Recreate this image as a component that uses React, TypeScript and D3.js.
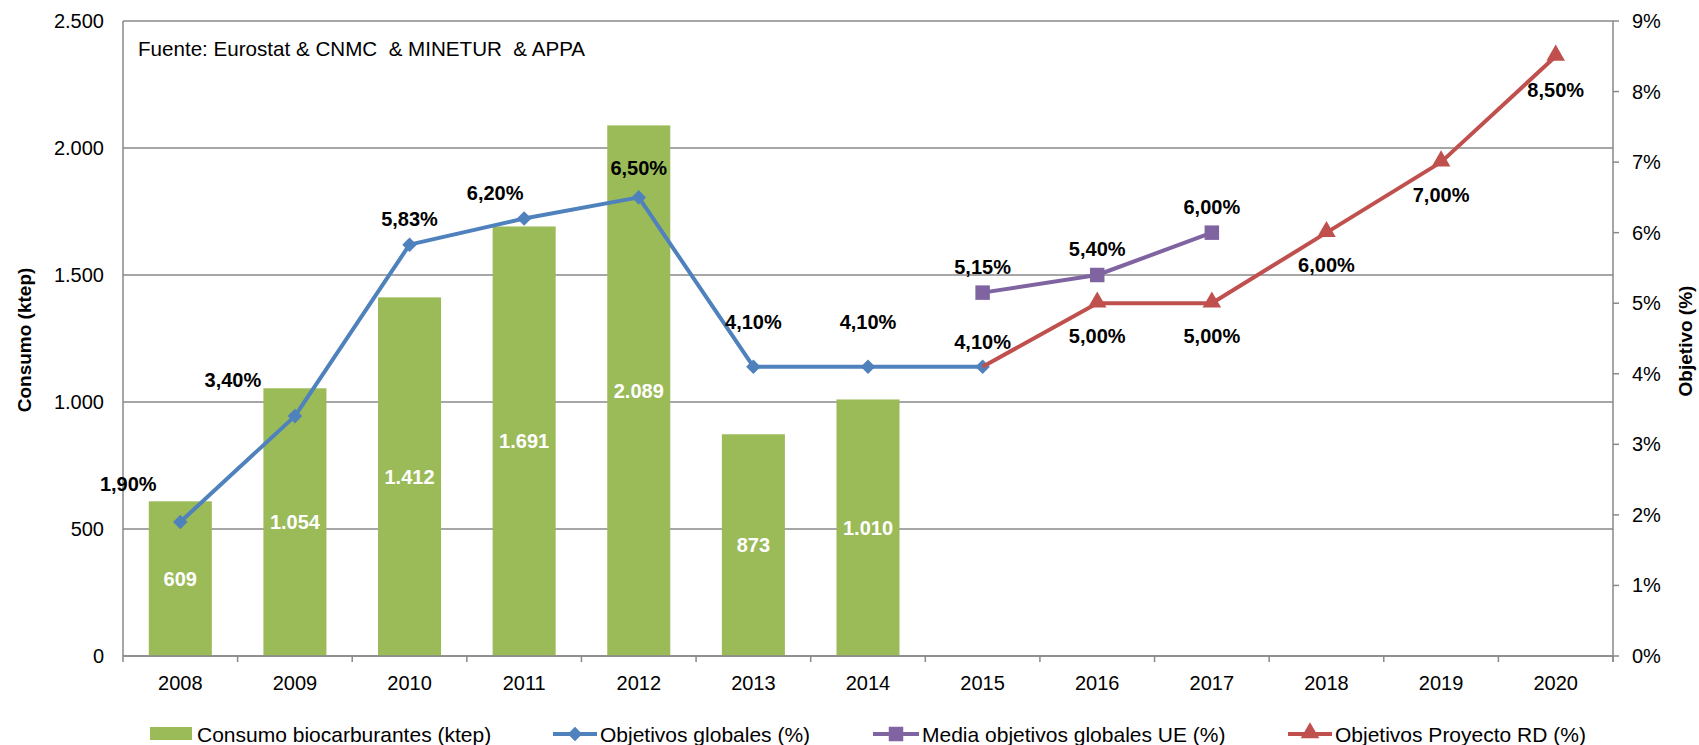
import React from "react";
import * as d3 from "d3";

const years = ["2008", "2009", "2010", "2011", "2012", "2013", "2014", "2015", "2016", "2017", "2018", "2019", "2020"];
const consumo = [609, 1054, 1412, 1691, 2089, 873, 1010];
const objetivosGlobales = [1.9, 3.4, 5.83, 6.2, 6.5, 4.1, 4.1, 4.1];
const mediaUEYears = ["2015", "2016", "2017"];
const mediaUE = [5.15, 5.4, 6.0];
const proyectoRDYears = ["2015", "2016", "2017", "2018", "2019", "2020"];
const proyectoRD = [4.1, 5.0, 5.0, 6.0, 7.0, 8.5];
const leftTicks = [0, 500, 1000, 1500, 2000, 2500];
const rightTicks = [0, 1, 2, 3, 4, 5, 6, 7, 8, 9];
const legendLabels = ["Consumo biocarburantes (ktep)", "Objetivos globales (%)", "Media objetivos globales UE (%)", "Objetivos Proyecto RD (%)"];

// label offsets (layout only)
const blueLabelOffsets: [number, number][] = [[-52, -38], [-62, -36], [0, -26], [-29, -26], [0, -29], [0, -45], [0, -45], [0, -25]];
const purpleLabelOffsets: [number, number][] = [[0, -26], [0, -26], [0, -26]];
const redLabelOffsets: [number, number][] = [[0, 0], [0, 33], [0, 33], [0, 32], [0, 33], [0, 34]];

const GREEN = "#9BBB59";
const BLUE = "#4F81BD";
const PURPLE = "#8064A2";
const RED = "#C0504D";
const GRID = "#898989";
const FONT = "'Liberation Sans', Arial, sans-serif";

const fmtThousands = (v: number) => {
  const s = String(v);
  return s.replace(/\B(?=(\d{3})+(?!\d))/g, ".");
};
const fmtPct = (v: number) => v.toFixed(2).replace(".", ",") + "%";

export default function App() {
  const W = 1699, H = 745;
  const left = 123, right = 1613, top = 21, bottom = 656;
  const x = d3.scaleBand<string>().domain(years).range([left, right]).padding(0);
  const bw = x.bandwidth();
  const cx = (y: string) => (x(y) as number) + bw / 2;
  const yL = d3.scaleLinear().domain([0, 2500]).range([bottom, top]);
  const yR = d3.scaleLinear().domain([0, 9]).range([bottom, top]);
  const barW = bw * 0.55;

  const line = d3.line<[number, number]>().x(d => d[0]).y(d => d[1]);
  const bluePts: [number, number][] = objetivosGlobales.map((v, i) => [cx(years[i]), yR(v)]);
  const purplePts: [number, number][] = mediaUE.map((v, i) => [cx(mediaUEYears[i]), yR(v)]);
  const redPts: [number, number][] = proyectoRD.map((v, i) => [cx(proyectoRDYears[i]), yR(v)]);

  const diamond = d3.symbol().type(d3.symbolDiamond2).size(135)();
  const square = d3.symbol().type(d3.symbolSquare).size(210)();
  const triangle = d3.symbol().type(d3.symbolTriangle).size(150)();

  const boundaries = d3.range(years.length + 1).map(i => left + i * bw);

  return (
    <svg width={W} height={H} style={{ position: "absolute", left: 0, top: 0, background: "#fff" }} fontFamily={FONT}>
      <rect x={0} y={0} width={W} height={H} fill="#fff" />
      {/* gridlines */}
      {leftTicks.map(t => (
        <line key={"g" + t} x1={left} x2={right} y1={yL(t)} y2={yL(t)} stroke={GRID} strokeWidth={1.5} />
      ))}
      {/* left tick labels */}
      {leftTicks.map(t => (
        <text key={"lt" + t} x={104} y={yL(t)} textAnchor="end" dominantBaseline="central" fontSize={20} fill="#000">
          {fmtThousands(t)}
        </text>
      ))}
      {/* right axis */}
      <line x1={right} x2={right} y1={top} y2={bottom + 6} stroke={GRID} strokeWidth={1.5} />
      {rightTicks.map(t => (
        <g key={"rt" + t}>
          <line x1={right} x2={right + 6} y1={yR(t)} y2={yR(t)} stroke={GRID} strokeWidth={1.5} />
          <text x={1632} y={yR(t)} dominantBaseline="central" fontSize={20} fill="#000">{t + "%"}</text>
        </g>
      ))}
      {/* bars */}
      {consumo.map((v, i) => (
        <rect key={"b" + i} x={cx(years[i]) - barW / 2} y={yL(v)} width={barW} height={bottom - yL(v)} fill={GREEN} />
      ))}
      {/* left axis and bottom axis */}
      <line x1={left} x2={left} y1={top} y2={bottom} stroke={GRID} strokeWidth={1.5} />
      <line x1={left} x2={right} y1={bottom} y2={bottom} stroke={GRID} strokeWidth={1.5} />
      {boundaries.map((b, i) => (
        <line key={"xt" + i} x1={b} x2={b} y1={bottom} y2={bottom + 6} stroke={GRID} strokeWidth={1.5} />
      ))}
      {years.map(y => (
        <text key={"xl" + y} x={cx(y)} y={683} textAnchor="middle" dominantBaseline="central" fontSize={20} fill="#000">{y}</text>
      ))}
      {/* bar labels */}
      {consumo.map((v, i) => (
        <text key={"bl" + i} x={cx(years[i])} y={(yL(v) + bottom) / 2} textAnchor="middle" dominantBaseline="central" fontSize={20} fontWeight="bold" fill="#fff">
          {fmtThousands(v)}
        </text>
      ))}
      {/* lines */}
      <path d={line(bluePts) as string} fill="none" stroke={BLUE} strokeWidth={4} strokeLinejoin="round" />
      {bluePts.map((p, i) => (
        <path key={"bm" + i} d={diamond as string} transform={`translate(${p[0]},${p[1]})`} fill={BLUE} />
      ))}
      <path d={line(purplePts) as string} fill="none" stroke={PURPLE} strokeWidth={4} strokeLinejoin="round" />
      {purplePts.map((p, i) => (
        <path key={"pm" + i} d={square as string} transform={`translate(${p[0]},${p[1]})`} fill={PURPLE} />
      ))}
      <path d={line(redPts) as string} fill="none" stroke={RED} strokeWidth={4} strokeLinejoin="round" />
      {redPts.map((p, i) => i === 0 ? null : (
        <path key={"rm" + i} d={triangle as string} transform={`translate(${p[0]},${p[1] - 1})`} fill={RED} />
      ))}
      {/* line labels */}
      {bluePts.map((p, i) => (
        <text key={"bt" + i} x={p[0] + blueLabelOffsets[i][0]} y={p[1] + blueLabelOffsets[i][1]} textAnchor="middle" dominantBaseline="central" fontSize={20} fontWeight="bold" fill="#000">
          {fmtPct(objetivosGlobales[i])}
        </text>
      ))}
      {purplePts.map((p, i) => (
        <text key={"pt" + i} x={p[0] + purpleLabelOffsets[i][0]} y={p[1] + purpleLabelOffsets[i][1]} textAnchor="middle" dominantBaseline="central" fontSize={20} fontWeight="bold" fill="#000">
          {fmtPct(mediaUE[i])}
        </text>
      ))}
      {redPts.map((p, i) => i === 0 ? null : (
        <text key={"rt" + i} x={p[0] + redLabelOffsets[i][0]} y={p[1] + redLabelOffsets[i][1]} textAnchor="middle" dominantBaseline="central" fontSize={20} fontWeight="bold" fill="#000">
          {fmtPct(proyectoRD[i])}
        </text>
      ))}
      {/* source */}
      <text x={138} y={48} dominantBaseline="central" fontSize={20.6} fill="#000" style={{ whiteSpace: "pre" }}>
        {"Fuente: Eurostat & CNMC  & MINETUR  & APPA"}
      </text>
      {/* axis titles */}
      <text transform="translate(24,340) rotate(-90)" textAnchor="middle" dominantBaseline="central" fontSize={19} fontWeight="bold" fill="#000">Consumo (ktep)</text>
      <text transform="translate(1685,341) rotate(-90)" textAnchor="middle" dominantBaseline="central" fontSize={19} fontWeight="bold" fill="#000">Objetivo (%)</text>
      {/* legend */}
      <rect x={150} y={727} width={42} height={13} fill={GREEN} />
      <text x={197} y={734} dominantBaseline="central" fontSize={21} fill="#000">{legendLabels[0]}</text>
      <line x1={553} x2={597} y1={734} y2={734} stroke={BLUE} strokeWidth={4} />
      <path d={diamond as string} transform="translate(575,734)" fill={BLUE} />
      <text x={600} y={734} dominantBaseline="central" fontSize={21} fill="#000">{legendLabels[1]}</text>
      <line x1={873} x2={919} y1={734} y2={734} stroke={PURPLE} strokeWidth={4} />
      <path d={square as string} transform="translate(896,734)" fill={PURPLE} />
      <text x={922} y={734} dominantBaseline="central" fontSize={21} fill="#000">{legendLabels[2]}</text>
      <line x1={1288} x2={1332} y1={734} y2={734} stroke={RED} strokeWidth={4} />
      <path d={triangle as string} transform="translate(1310,733)" fill={RED} />
      <text x={1335} y={734} dominantBaseline="central" fontSize={21} fill="#000">{legendLabels[3]}</text>
    </svg>
  );
}
